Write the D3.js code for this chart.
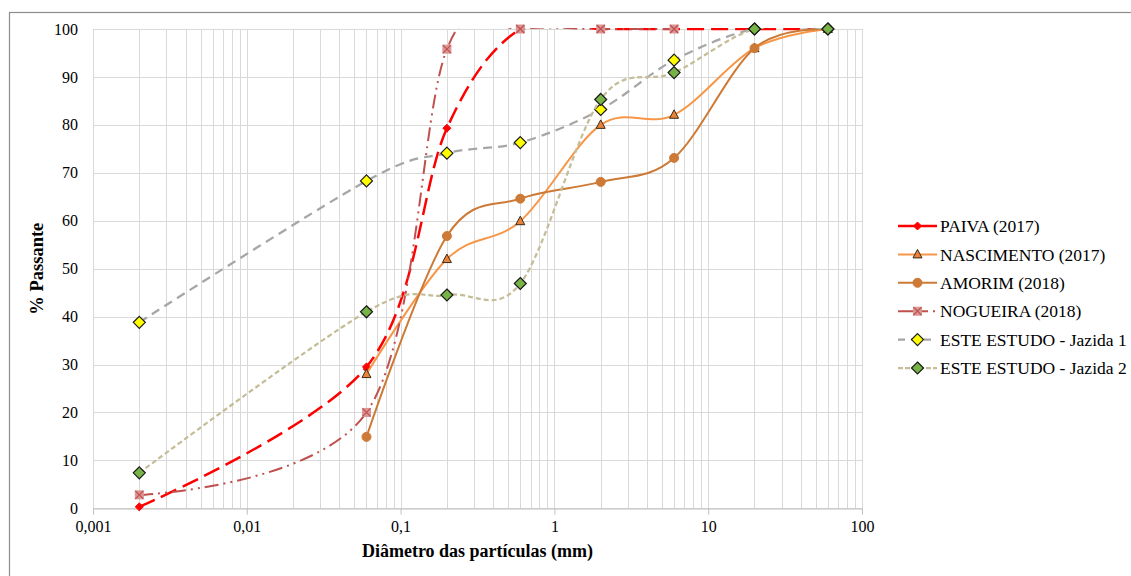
<!DOCTYPE html>
<html>
<head>
<meta charset="utf-8">
<script src="https://cdn.jsdelivr.net/npm/d3@7"></script>
<style>
  body { margin: 0; background: #fff; }
  svg { display: block; }
  svg text { font-family: "Liberation Serif", "Times New Roman", Times, "DejaVu Serif", serif !important; }
</style>
</head>
<body>
<svg id="chart" width="1131" height="576"></svg>
<script>
// sieve sizes (mm) and % passing for each study
const paiva = [[0.002, 0.3], [0.06, 29.5], [0.2, 79.3], [0.6, 100], [2, 100], [6, 100], [20, 100], [60, 100]];
const nascimento = [[0.06, 28], [0.2, 52], [0.6, 59.9], [2, 80], [6, 82.1], [20, 96], [60, 100]];
const amorim = [[0.06, 14.9], [0.2, 56.8], [0.6, 64.6], [2, 68.1], [6, 73.1], [20, 96], [60, 100]];
const nogueira = [[0.002, 2.8], [0.06, 20], [0.2, 95.8], [0.6, 100], [2, 100], [6, 100]];
const jazida1 = [[0.002, 38.8], [0.06, 68.3], [0.2, 74.1], [0.6, 76.3], [2, 83.2], [6, 93.5], [20, 100], [60, 100]];
const jazida2 = [[0.002, 7.4], [0.06, 41], [0.2, 44.5], [0.6, 46.9], [2, 85.3], [6, 90.9], [20, 100], [60, 100]];

const xTicks = [0.001, 0.01, 0.1, 1, 10, 100];
const yTicks = d3.range(0, 101, 10);

const series = [
  { name: "PAIVA (2017)", data: paiva, color: "#FF0000", dash: "17,7", legendDash: null, width: 2.5, marker: "smalldiamond", fill: "#FF0000", mstroke: "#FF0000" },
  { name: "NASCIMENTO (2017)", data: nascimento, color: "#F79646", dash: null, legendDash: null, width: 2, marker: "triangle", fill: "#E8843A", mstroke: "#3a2a1a" },
  { name: "AMORIM (2018)", data: amorim, color: "#CC7A36", dash: null, legendDash: null, width: 2, marker: "circle", fill: "#CC7A36", mstroke: "#CC7A36" },
  { name: "NOGUEIRA (2018)", data: nogueira, color: "#C0504D", dash: "14,5,2,5,2,5", legendDash: "30,5,2,5", width: 2, marker: "xsquare", fill: "#D99694", mstroke: "#C0504D" },
  { name: "ESTE ESTUDO - Jazida 1", data: jazida1, color: "#A6A6A6", dash: "9,6", legendDash: "7,6", width: 2.25, marker: "diamond", fill: "#FFFF00", mstroke: "#1a1a1a" },
  { name: "ESTE ESTUDO - Jazida 2", data: jazida2, color: "#C4BD97", dash: "5,3", legendDash: "5,2", width: 2.25, marker: "diamond", fill: "#77B347", mstroke: "#1a1a1a" }
];

const svg = d3.select("#chart");
const pLeft = 93, pRight = 862, pTop = 29, pBottom = 508.3;

const x = d3.scaleLog().domain([0.001, 100]).range([pLeft, pRight]);
const y = d3.scaleLinear().domain([0, 100]).range([pBottom, pTop]);

// outer chart border
svg.append("rect")
  .attr("x", 9.5).attr("y", 12.5)
  .attr("width", 1300).attr("height", 800)
  .attr("fill", "none").attr("stroke", "#8c8c8c").attr("stroke-width", 1.2);

// grid
const gridX = [];
for (let e = -3; e < 2; e++) for (let k = 1; k < 10; k++) gridX.push(k * Math.pow(10, e));
gridX.push(100);

const grid = svg.append("g").attr("stroke", "#d9d9d9").attr("stroke-width", 1);
grid.selectAll(".vx").data(gridX).enter().append("line")
  .attr("x1", d => Math.round(x(d)) + 0.5).attr("x2", d => Math.round(x(d)) + 0.5)
  .attr("y1", pTop).attr("y2", pBottom);
grid.selectAll(".hy").data(yTicks).enter().append("line")
  .attr("x1", pLeft).attr("x2", pRight)
  .attr("y1", d => Math.round(y(d)) + 0.5).attr("y2", d => Math.round(y(d)) + 0.5);

// bottom axis
const xAxis = d3.axisBottom(x)
  .tickValues(xTicks)
  .tickSize(6)
  .tickPadding(6)
  .tickFormat(d => String(d).replace(".", ","));
const gx = svg.append("g").attr("transform", `translate(0,${Math.round(pBottom) + 0.5})`).call(xAxis);
gx.select(".domain").attr("stroke", "#bfbfbf");
gx.selectAll(".tick line").attr("stroke", "#bfbfbf");
gx.selectAll(".tick text").attr("font-size", 16).attr("fill", "#000");

// left labels
const yAxis = d3.axisLeft(y).tickValues(yTicks).tickSize(0).tickPadding(15);
const gy = svg.append("g").attr("transform", `translate(${pLeft},0)`).call(yAxis);
gy.select(".domain").remove();
gy.selectAll(".tick text").attr("font-size", 16).attr("fill", "#000");

// axis titles
svg.append("text")
  .attr("x", (pLeft + pRight) / 2).attr("y", 557)
  .attr("text-anchor", "middle").attr("font-weight", "bold").attr("font-size", 18)
  .text("Diâmetro das partículas (mm)");
svg.append("text")
  .attr("transform", `translate(43,${(pTop + pBottom) / 2}) rotate(-90)`)
  .attr("text-anchor", "middle").attr("font-weight", "bold").attr("font-size", 18.5)
  .text("% Passante");

// clip
svg.append("clipPath").attr("id", "plot")
  .append("rect").attr("x", pLeft).attr("y", pTop - 1).attr("width", pRight - pLeft + 30).attr("height", pBottom - pTop + 2);

const line = d3.line()
  .x(d => x(d[0])).y(d => y(d[1]))
  .curve(d3.curveCatmullRom.alpha(0));

function drawMarker(g, s) {
  if (s.marker === "diamond") {
    g.append("path").attr("d", "M0,-6L6,0L0,6L-6,0Z")
      .attr("fill", s.fill).attr("stroke", s.mstroke).attr("stroke-width", 1.2);
  } else if (s.marker === "smalldiamond") {
    g.append("path").attr("d", "M0,-4L4,0L0,4L-4,0Z")
      .attr("fill", s.fill).attr("stroke", s.mstroke).attr("stroke-width", 1);
  } else if (s.marker === "triangle") {
    g.append("path").attr("d", "M0,-5L4.5,3.5L-4.5,3.5Z")
      .attr("fill", s.fill).attr("stroke", s.mstroke).attr("stroke-width", 1);
  } else if (s.marker === "circle") {
    g.append("circle").attr("r", 4.5).attr("fill", s.fill).attr("stroke", s.mstroke);
  } else if (s.marker === "xsquare") {
    g.append("rect").attr("x", -4).attr("y", -4).attr("width", 8).attr("height", 8)
      .attr("fill", s.fill).attr("stroke", s.fill);
    g.append("path").attr("d", "M-4,-4L4,4M4,-4L-4,4")
      .attr("stroke", s.mstroke).attr("stroke-width", 1.2);
  }
}

const plot = svg.append("g");
series.forEach(s => {
  const g = plot.append("g");
  g.append("path")
    .attr("clip-path", "url(#plot)")
    .attr("d", line(s.data))
    .attr("fill", "none")
    .attr("stroke", s.color)
    .attr("stroke-width", s.width)
    .attr("stroke-dasharray", s.dash);
  g.selectAll(".m").data(s.data).enter().append("g")
    .attr("transform", d => `translate(${x(d[0])},${y(d[1])})`)
    .each(function () { drawMarker(d3.select(this), s); });
});

// legend
const legend = svg.append("g");
series.forEach((s, i) => {
  const ly = 226 + i * 28.4;
  const g = legend.append("g");
  g.append("line")
    .attr("x1", 898).attr("x2", 937).attr("y1", ly).attr("y2", ly)
    .attr("stroke", s.color).attr("stroke-width", s.width)
    .attr("stroke-dasharray", s.legendDash);
  drawMarker(g.append("g").attr("transform", `translate(917.5,${ly})`), s);
  g.append("text")
    .attr("x", 940).attr("y", ly).attr("dy", "0.35em")
    .attr("font-size", 17.5)
    .text(s.name);
});
</script>
</body>
</html>
